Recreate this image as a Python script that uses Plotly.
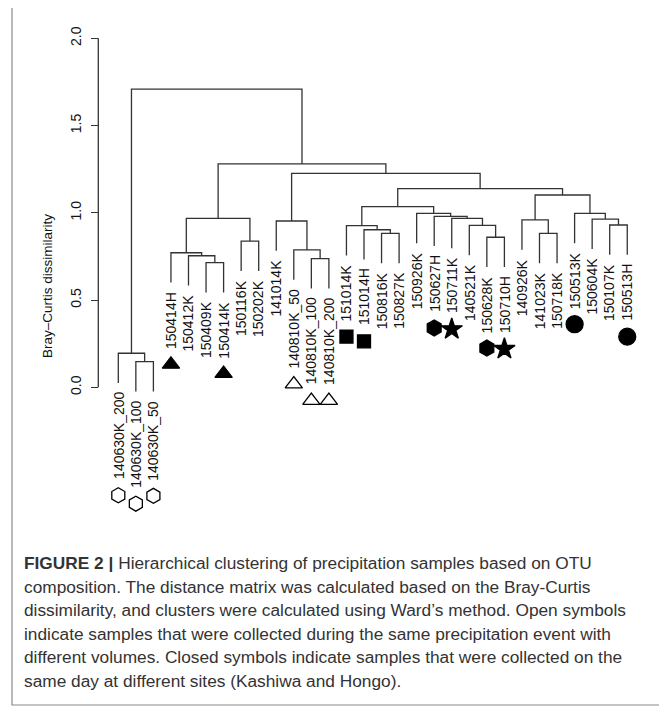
import plotly.graph_objects as go

# ---------------- data ----------------
leaf_labels = ["140630K_200", "140630K_100", "140630K_50", "150414H", "150412K",
               "150409K", "150414K", "150116K", "150202K", "141014K",
               "140810K_50", "140810K_100", "140810K_200", "151014K", "151014H",
               "150816K", "150827K", "150926K", "150627H", "150711K",
               "140521K", "150628K", "150710H", "140926K", "141023K",
               "150718K", "150513K", "150604K", "150107K", "150513H"]

# hclust-style merge table (negative = leaf index, positive = earlier merge)
merge_left = [-2, -1, -6, -5, -4, -8, 5, -12, -11, -10, -16, -15, -14, -22, -21,
              -20, -19, -18, 13, -25, -24, -29, -28, -27, 21, 19, 10, 7, 2]
merge_right = [-3, 1, -7, 3, 4, -9, 6, -13, 8, 9, -17, 11, 12, -23, 14,
               15, 16, 17, 18, -26, 20, -30, 22, 23, 24, 25, 26, 27, 28]
merge_height = [0.147, 0.195, 0.714, 0.754, 0.771, 0.838, 0.968, 0.737, 0.787, 0.953,
                0.882, 0.903, 0.926, 0.860, 0.928, 0.968, 0.980, 0.997, 1.035, 0.882,
                0.959, 0.930, 0.964, 0.997, 1.102, 1.138, 1.226, 1.280, 1.709]

marker_leaf = ["140630K_200", "140630K_100", "140630K_50", "150414H", "150414K",
               "140810K_50", "140810K_100", "140810K_200", "151014K", "151014H",
               "150627H", "150711K", "150628K", "150710H", "150513K", "150513H"]
marker_symbol = ["hexagon-open", "hexagon-open", "hexagon-open", "triangle-up", "triangle-up",
                 "triangle-up-open", "triangle-up-open", "triangle-up-open", "square", "square",
                 "hexagon", "star", "hexagon", "star", "circle", "circle"]

y_ticks = [0.0, 0.5, 1.0, 1.5, 2.0]
y_tick_text = ["0.0", "0.5", "1.0", "1.5", "2.0"]
y_title = "Bray–Curtis dissimilarity"

caption_lines = [
    "<b>FIGURE 2 |</b> Hierarchical clustering of precipitation samples based on OTU",
    "composition. The distance matrix was calculated based on the Bray-Curtis",
    "dissimilarity, and clusters were calculated using Ward’s method. Open symbols",
    "indicate samples that were collected during the same precipitation event with",
    "different volumes. Closed symbols indicate samples that were collected on the",
    "same day at different sites (Kashiwa and Hongo).",
]

# ---------------- layout constants (page pixels) ----------------
OFF = 8                      # default body margin of the html page
W, H = 667 - OFF, 708 - OFF  # figure size


def px(p):                   # page pixel -> figure pixel
    return p - OFF


LEAF0_PX, LEAF_STEP_PX = px(118.3), 17.55
Y0_PX, Y_UNIT_PX = px(387.3), 174.5
AXIS_X_PX = px(98.3)
LABEL_FS = 14
LINE_COL = "#333333"
FONT = "Liberation Sans, Arial"

x_min = 1 - LEAF0_PX / LEAF_STEP_PX
x_max = 1 + (W - LEAF0_PX) / LEAF_STEP_PX
y_max = Y0_PX / Y_UNIT_PX
y_min = (Y0_PX - H) / Y_UNIT_PX

hang = 0.1 * max(merge_height)

# ---------------- dendrogram geometry ----------------
node_x = {}
leaf_bottom = {}


def child_info(c, parent_h):
    if c < 0:
        i = -c
        leaf_bottom[i] = parent_h - hang
        return float(i), parent_h - hang
    return node_x[c], merge_height[c - 1]


xs, ys = [], []
for k in range(1, len(merge_height) + 1):
    h = merge_height[k - 1]
    lx, ly = child_info(merge_left[k - 1], h)
    rx, ry = child_info(merge_right[k - 1], h)
    node_x[k] = (lx + rx) / 2
    xs += [lx, lx, rx, rx, None]
    ys += [ly, h, h, ry, None]

fig = go.Figure()
fig.add_trace(go.Scatter(x=xs, y=ys, mode="lines",
                         line=dict(color=LINE_COL, width=1.3),
                         hoverinfo="skip", showlegend=False))

# text-length estimate (Arial metrics) used to place symbols under labels
char_w = {"K": 0.667, "H": 0.722, "_": 0.556}


def text_px(s):
    return sum(char_w.get(ch, 0.556) for ch in s) * LABEL_FS


annotations = []
for i, lab in enumerate(leaf_labels, start=1):
    annotations.append(dict(x=i, y=leaf_bottom[i], xref="x", yref="y", text=lab,
                            textangle=-90, showarrow=False, xanchor="center",
                            yanchor="top", yshift=-7,
                            font=dict(family=FONT, size=LABEL_FS, color="#111111")))

mx, my = [], []
for lab in marker_leaf:
    i = leaf_labels.index(lab) + 1
    mx.append(i)
    my.append(leaf_bottom[i] - (10 + text_px(lab) + 15) / Y_UNIT_PX)

size_map = {"hexagon-open": 15, "hexagon": 16, "triangle-up": 15, "triangle-up-open": 15,
            "square": 13, "star": 16, "circle": 17}
fig.add_trace(go.Scatter(
    x=mx, y=my, mode="markers", hoverinfo="skip", showlegend=False,
    marker=dict(symbol=marker_symbol, size=[size_map[s] for s in marker_symbol],
                color="#000000", opacity=1,
                line=dict(color="#000000", width=1.3))))

# y-axis title
annotations.append(dict(x=px(47) / W, y=1 - px(286) / H, xref="paper", yref="paper",
                        text=y_title, textangle=-90, showarrow=False,
                        xanchor="center", yanchor="middle",
                        font=dict(family=FONT, size=13.5, color="#111111")))

# caption
cap_top = 563
cap_step = 23.6
for j, line in enumerate(caption_lines):
    annotations.append(dict(x=px(22) / W, y=1 - px(cap_top + j * cap_step) / H,
                            xref="paper", yref="paper", text=line, showarrow=False,
                            xanchor="left", yanchor="middle", align="left",
                            font=dict(family=FONT, size=17.3, color="#333333")))

shapes = [
    # axis line between first and last tick (R style)
    dict(type="line", xref="paper", yref="y", x0=AXIS_X_PX / W, x1=AXIS_X_PX / W,
         y0=y_ticks[0], y1=y_ticks[-1], line=dict(color=LINE_COL, width=1.3)),
    # figure border
    dict(type="rect", xref="paper", yref="paper", x0=px(12) / W, x1=px(665) / W,
         y0=1 - px(705) / H, y1=1 - px(6) / H, line=dict(color="#8a8a8a", width=1.2)),
]

fig.update_layout(
    width=W, height=H, margin=dict(l=0, r=0, t=0, b=0),
    paper_bgcolor="white", plot_bgcolor="white",
    xaxis=dict(range=[x_min, x_max], visible=False, fixedrange=True),
    yaxis=dict(range=[y_min, y_max], anchor="free", position=AXIS_X_PX / W,
               side="left", showgrid=False, zeroline=False, showline=False,
               ticks="outside", ticklen=7, tickwidth=1.3, tickcolor=LINE_COL,
               tickvals=y_ticks, ticktext=y_tick_text, tickangle=-90,
               ticklabelstandoff=5,
               tickfont=dict(family=FONT, size=14, color="#111111"),
               automargin=False, fixedrange=True),
    annotations=annotations, shapes=shapes, showlegend=False,
)

fig.write_html("out.html")
